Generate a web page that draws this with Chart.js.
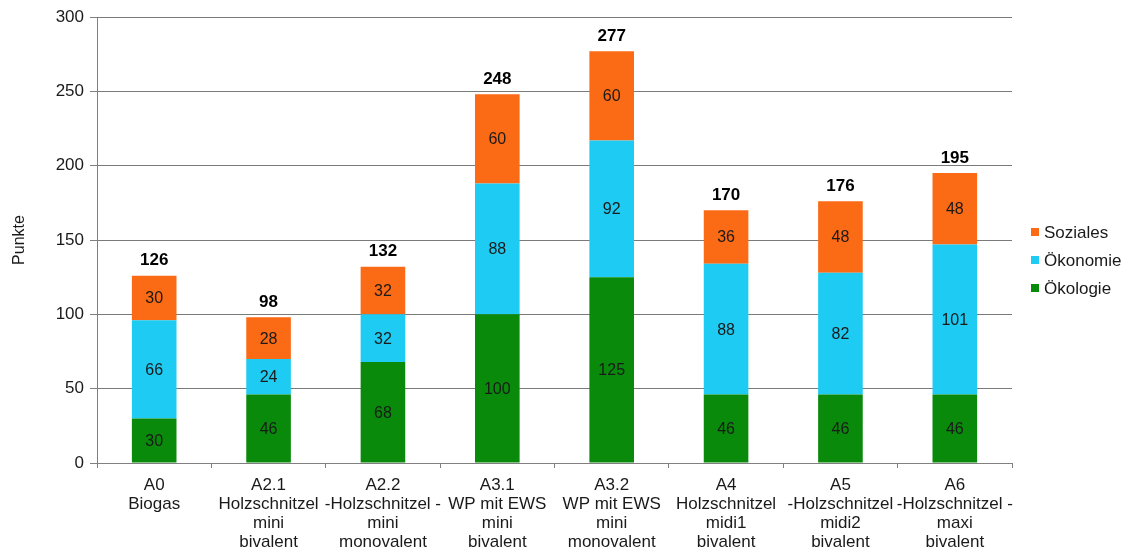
<!DOCTYPE html>
<html>
<head>
<meta charset="utf-8">
<script src="https://cdn.jsdelivr.net/npm/chart.js@4/dist/chart.umd.min.js"></script>
<style>
  html, body { margin: 0; padding: 0; background: #fff; }
  #wrap { width: 1131px; height: 558px; position: relative; }
</style>
</head>
<body>
<div id="wrap"><canvas id="c" width="1131" height="558"></canvas></div>
<script>
const categories = [
  ["A0", "Biogas"],
  ["A2.1", "Holzschnitzel", "mini", "bivalent"],
  ["A2.2", "-Holzschnitzel -", "mini", "monovalent"],
  ["A3.1", "WP mit EWS", "mini", "bivalent"],
  ["A3.2", "WP mit EWS", "mini", "monovalent"],
  ["A4", "Holzschnitzel", "midi1", "bivalent"],
  ["A5", "-Holzschnitzel", "midi2", "bivalent"],
  ["A6", "-Holzschnitzel -", "maxi", "bivalent"]
];
const oekologie = [30, 46, 68, 100, 125, 46, 46, 46];
const oekonomie = [66, 24, 32, 88, 92, 88, 82, 101];
const soziales  = [30, 28, 32, 60, 60, 36, 48, 48];
const yTicks = [0, 50, 100, 150, 200, 250, 300];

const FONT = "'Liberation Sans', Arial, sans-serif";
const colors = { soz: "#fb6a14", oek: "#1ecbf2", eco: "#098a0b" };

// value labels inside each segment and totals above each stack
const valueLabels = {
  id: "valueLabels",
  afterDatasetsDraw(chart) {
    const ctx = chart.ctx;
    ctx.save();
    ctx.textAlign = "center";
    ctx.textBaseline = "middle";
    ctx.font = "16px " + FONT;
    ctx.fillStyle = "#1a1a1a";
    chart.data.datasets.forEach((ds, i) => {
      const meta = chart.getDatasetMeta(i);
      meta.data.forEach((bar, j) => {
        const cy = (bar.y + bar.base) / 2;
        ctx.fillText(String(ds.data[j]), bar.x, cy + 1);
      });
    });
    ctx.font = "bold 17px " + FONT;
    ctx.fillStyle = "#000";
    const yScale = chart.scales.y;
    const topMeta = chart.getDatasetMeta(chart.data.datasets.length - 1);
    categories.forEach((c, j) => {
      const total = chart.data.datasets.reduce((s, ds) => s + ds.data[j], 0);
      const x = topMeta.data[j].x;
      ctx.fillText(String(total), x, yScale.getPixelForValue(total) - 15);
    });
    ctx.restore();
  }
};

// legend drawn at the right of the plot area
const sideLegend = {
  id: "sideLegend",
  afterDraw(chart) {
    const ctx = chart.ctx;
    const items = [...chart.data.datasets].reverse();
    ctx.save();
    ctx.font = "17px " + FONT;
    ctx.textBaseline = "middle";
    ctx.textAlign = "left";
    items.forEach((ds, k) => {
      const y = 232 + k * 28;
      ctx.fillStyle = ds.backgroundColor;
      ctx.fillRect(1031, y - 4, 8, 8);
      ctx.fillStyle = "#1a1a1a";
      ctx.fillText(ds.label, 1044, y + 1);
    });
    ctx.restore();
  }
};

new Chart(document.getElementById("c"), {
  type: "bar",
  data: {
    labels: categories,
    datasets: [
      { label: "Ökologie", data: oekologie, backgroundColor: colors.eco },
      { label: "Ökonomie", data: oekonomie, backgroundColor: colors.oek },
      { label: "Soziales", data: soziales, backgroundColor: colors.soz }
    ]
  },
  options: {
    responsive: false,
    animation: false,
    events: [],
    datasets: { bar: { barPercentage: 0.39, categoryPercentage: 1.0 } },
    layout: { padding: { left: 0, right: 119, top: 17, bottom: 0 } },
    plugins: { legend: { display: false }, tooltip: { enabled: false } },
    scales: {
      x: {
        stacked: true,
        offset: true,
        grid: { offset: true, drawOnChartArea: false, drawTicks: true, tickLength: 5, color: "#808080" },
        border: { color: "#808080" },
        ticks: {
          color: "#1a1a1a",
          font: { family: FONT, size: 17, lineHeight: 1.12 },
          padding: 8,
          maxRotation: 0,
          autoSkip: false
        },
        afterFit(s) { s.height = 95; }
      },
      y: {
        stacked: true,
        min: 0,
        max: 300,
        afterBuildTicks(s) { s.ticks = yTicks.map(v => ({ value: v })); },
        grid: { color: "#7a7a7a", tickLength: 7, tickColor: "#808080" },
        border: { color: "#808080" },
        ticks: {
          color: "#1a1a1a",
          font: { family: FONT, size: 17 },
          padding: 6
        },
        title: {
          display: true,
          text: "Punkte",
          color: "#1a1a1a",
          font: { family: FONT, size: 16 },
          padding: { top: 10, bottom: 4 }
        },
        afterFit(s) { s.width = 97; }
      }
    }
  },
  plugins: [valueLabels, sideLegend]
});
</script>
</body>
</html>
